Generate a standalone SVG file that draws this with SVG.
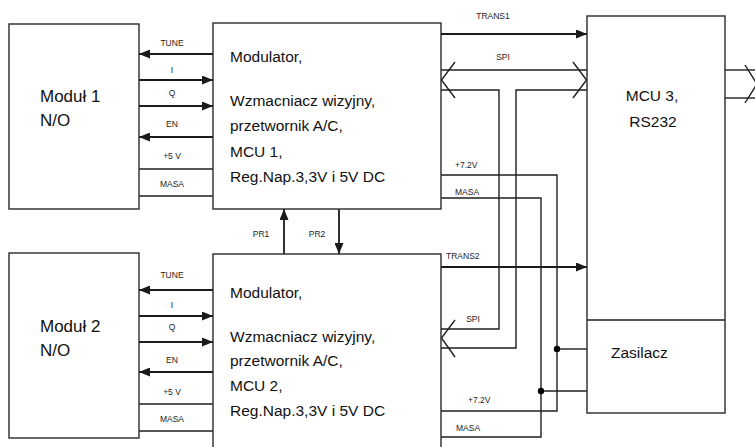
<svg xmlns="http://www.w3.org/2000/svg" width="755" height="447" viewBox="0 0 755 447">
  <defs>
    <marker id="arr" viewBox="0 0 11 9" refX="11" refY="4.5" markerWidth="11" markerHeight="9" markerUnits="userSpaceOnUse" orient="auto">
      <path d="M0,0 L11,4.5 L0,9 z" fill="#1a1a1a"/>
    </marker>
    <style>
      .box { fill: #ffffff; stroke: #2a2a2a; stroke-width: 1.4; }
      .ln { fill: none; stroke: #1f1f1f; stroke-width: 1.4; }
      .ar { fill: none; stroke: #1a1a1a; stroke-width: 1.8; marker-end: url(#arr); }
      .lbl { font-family: "Liberation Sans", Arial, sans-serif; font-size: 8.5px; fill: #222; }
      .mid { text-anchor: middle; }
      .big { font-family: "Liberation Sans", Arial, sans-serif; font-size: 17px; fill: #111; }
      .txt { font-family: "Liberation Sans", Arial, sans-serif; font-size: 15.5px; fill: #111; }
      .dot { fill: #000; }
    </style>
  </defs>
  <rect x="0" y="0" width="755" height="447" fill="#ffffff"/>

  <g id="connectors">
    <!-- Modulator 1 to Modul 1 -->
    <line class="ar" x1="213" y1="54" x2="139" y2="54"/>
    <line class="ar" x1="139" y1="80" x2="213" y2="80"/>
    <line class="ar" x1="139" y1="106" x2="213" y2="106"/>
    <line class="ar" x1="213" y1="137" x2="139" y2="137"/>
    <line class="ln" x1="139" y1="169" x2="213" y2="169"/>
    <line class="ln" x1="139" y1="196" x2="213" y2="196"/>
    <text class="lbl mid" x="172" y="46">TUNE</text>
    <text class="lbl mid" x="172" y="73">I</text>
    <text class="lbl mid" x="172" y="96">Q</text>
    <text class="lbl mid" x="172" y="127">EN</text>
    <text class="lbl mid" x="172" y="159">+5 V</text>
    <text class="lbl mid" x="172" y="187">MASA</text>

    <!-- Modulator 2 to Modul 2 -->
    <line class="ar" x1="213" y1="290" x2="139" y2="290"/>
    <line class="ar" x1="139" y1="316" x2="213" y2="316"/>
    <line class="ar" x1="139" y1="342" x2="213" y2="342"/>
    <line class="ar" x1="213" y1="372" x2="139" y2="372"/>
    <line class="ln" x1="139" y1="404" x2="213" y2="404"/>
    <line class="ln" x1="139" y1="431" x2="213" y2="431"/>
    <text class="lbl mid" x="172" y="278">TUNE</text>
    <text class="lbl mid" x="172" y="308">I</text>
    <text class="lbl mid" x="172" y="330">Q</text>
    <text class="lbl mid" x="172" y="363">EN</text>
    <text class="lbl mid" x="172" y="395">+5 V</text>
    <text class="lbl mid" x="172" y="422">MASA</text>

    <!-- PR1 / PR2 -->
    <line class="ar" x1="284" y1="254" x2="284" y2="209"/>
    <line class="ar" x1="339" y1="209" x2="339" y2="254"/>
    <text class="lbl mid" x="261" y="237">PR1</text>
    <text class="lbl mid" x="317" y="237">PR2</text>

    <!-- TRANS1 / TRANS2 -->
    <line class="ar" x1="441" y1="34" x2="587" y2="34"/>
    <text class="lbl mid" x="493" y="19">TRANS1</text>
    <line class="ar" x1="441" y1="267" x2="587" y2="267"/>
    <text class="lbl" x="446" y="259">TRANS2</text>

    <!-- SPI bus -->
    <line class="ln" x1="441" y1="70" x2="587" y2="70"/>
    <polyline class="ln" points="441,90 499,90 499,329 441,329"/>
    <polyline class="ln" points="587,90 516,90 516,348 441,348"/>
    <polyline class="ln" points="455,62 441.5,80 455,98"/>
    <polyline class="ln" points="573,62 586.5,80 573,98"/>
    <polyline class="ln" points="455,320 441.5,338 455,357"/>
    <text class="lbl mid" x="503" y="60">SPI</text>
    <text class="lbl mid" x="473" y="322">SPI</text>

    <!-- MCU3 right bus -->
    <line class="ln" x1="725" y1="70" x2="755" y2="70"/>
    <line class="ln" x1="725" y1="98" x2="755" y2="98"/>
    <polyline class="ln" points="745,65 757,84 745,103"/>

    <!-- Power -->
    <polyline class="ln" points="441,175 557,175 557,411 441,411"/>
    <polyline class="ln" points="441,198 541,198 541,437 441,437"/>
    <line class="ln" x1="557" y1="349" x2="587" y2="349"/>
    <line class="ln" x1="541" y1="391" x2="587" y2="391"/>
    <circle class="dot" cx="557" cy="349" r="3.2"/>
    <circle class="dot" cx="541" cy="391" r="3.2"/>
    <text class="lbl" x="455" y="168">+7.2V</text>
    <text class="lbl" x="455" y="195">MASA</text>
    <text class="lbl" x="468" y="403">+7.2V</text>
    <text class="lbl" x="456" y="431">MASA</text>
  </g>

  <g id="modul1">
    <rect class="box" x="9" y="24" width="130" height="185"/>
    <text class="big" x="40" y="102">Moduł 1</text>
    <text class="big" x="40" y="126">N/O</text>
  </g>

  <g id="modul2">
    <rect class="box" x="9" y="253" width="130" height="185"/>
    <text class="big" x="40" y="332">Moduł 2</text>
    <text class="big" x="40" y="356">N/O</text>
  </g>

  <g id="modulator1">
    <rect class="box" x="213" y="23" width="228" height="186"/>
    <text class="txt" x="230" y="62">Modulator,</text>
    <text class="txt" x="230" y="106">Wzmacniacz wizyjny,</text>
    <text class="txt" x="230" y="131">przetwornik A/C,</text>
    <text class="txt" x="230" y="157">MCU 1,</text>
    <text class="txt" x="230" y="182">Reg.Nap.3,3V i 5V DC</text>
  </g>

  <g id="modulator2">
    <rect class="box" x="213" y="254" width="228" height="200"/>
    <text class="txt" x="230" y="298">Modulator,</text>
    <text class="txt" x="230" y="342">Wzmacniacz wizyjny,</text>
    <text class="txt" x="230" y="366">przetwornik A/C,</text>
    <text class="txt" x="230" y="391">MCU 2,</text>
    <text class="txt" x="230" y="416">Reg.Nap.3,3V i 5V DC</text>
  </g>

  <g id="mcu3">
    <rect class="box" x="587" y="16" width="138" height="397"/>
    <line class="ln" x1="587" y1="320" x2="725" y2="320"/>
    <text class="txt mid" x="652" y="101">MCU 3,</text>
    <text class="txt mid" x="653" y="127">RS232</text>
  </g>

  <g id="zasilacz">
    <text class="txt" x="611" y="358">Zasilacz</text>
  </g>
</svg>
